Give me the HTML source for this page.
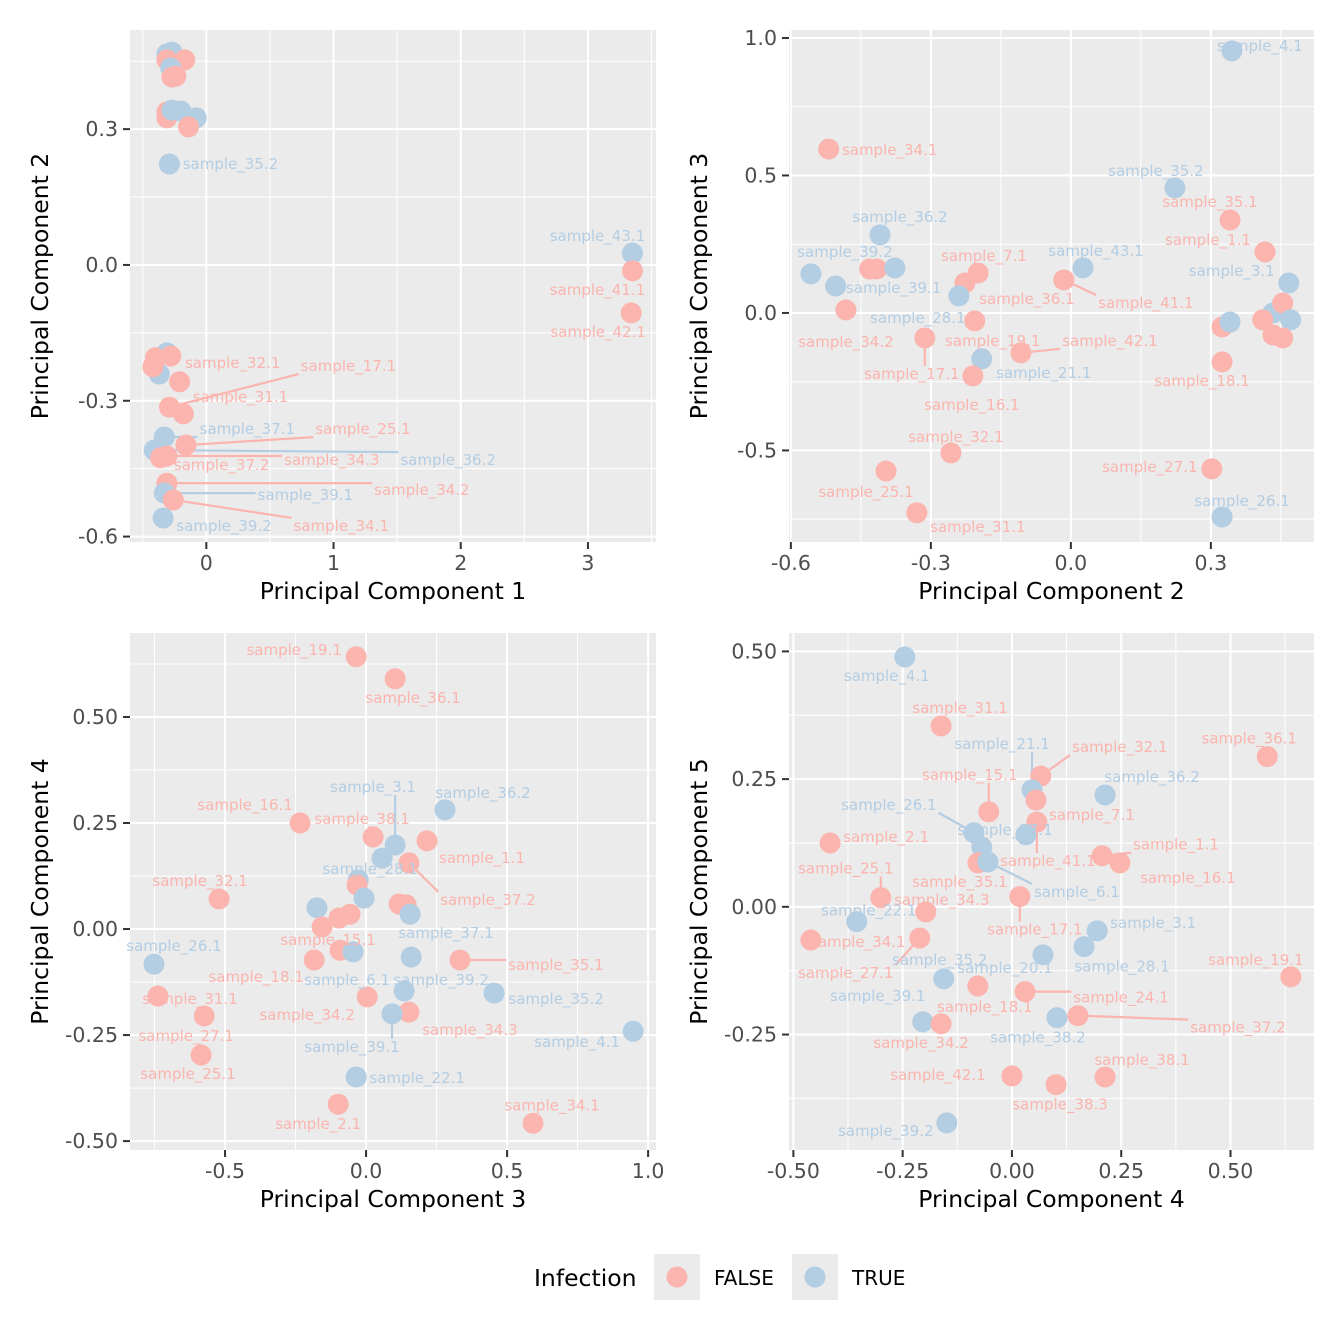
<!DOCTYPE html>
<html><head><meta charset="utf-8">
<style>
html,body{margin:0;padding:0;background:#fff;}
svg{display:block;font-family:"DejaVu Sans","Liberation Sans",sans-serif;}
</style></head>
<body>
<svg id="chart" width="1344" height="1344" viewBox="0 0 1344 1344" xmlns="http://www.w3.org/2000/svg">
<rect x="0" y="0" width="1344" height="1344" fill="#ffffff"/>
<g id="legend">
  <text x="534" y="1278" font-size="23.5" fill="#000" dominant-baseline="central">Infection</text>
  <rect x="654" y="1254" width="46" height="46" fill="#EBEBEB"/>
  <circle cx="677" cy="1277" r="10.5" fill="#FBB4AE"/>
  <text x="714" y="1278" font-size="20" fill="#000" dominant-baseline="central">FALSE</text>
  <rect x="792" y="1254" width="46" height="46" fill="#EBEBEB"/>
  <circle cx="815" cy="1277" r="10.5" fill="#B3CDE3"/>
  <text x="852" y="1278" font-size="20" fill="#000" dominant-baseline="central">TRUE</text>
</g>
</svg>
<script>
// ---- Panel 1: PC1 vs PC2 ----
const p1X = [-0.31,-0.27,-0.31,-0.17,-0.28,-0.27,-0.24,-0.31,-0.31,-0.27,-0.20,-0.08,-0.14,-0.29,3.35,3.35,3.34,-0.31,-0.40,-0.28,-0.37,-0.42,-0.21,-0.29,-0.18,-0.33,-0.16,-0.41,-0.36,-0.31,-0.31,-0.33,-0.26,-0.34];
const p1Y = [0.466,0.47,0.453,0.453,0.435,0.415,0.417,0.338,0.325,0.342,0.34,0.325,0.305,0.223,0.026,-0.013,-0.106,-0.194,-0.205,-0.201,-0.241,-0.225,-0.258,-0.314,-0.329,-0.38,-0.398,-0.409,-0.426,-0.422,-0.482,-0.504,-0.519,-0.559];
const p1Inf = [1,1,0,0,1,0,0,0,0,1,1,1,0,1,1,0,0,1,0,0,1,0,0,0,0,1,0,1,0,0,0,1,0,1];
const p1Lab = ["","","","","","","","","","","","","","sample_35.2","sample_43.1","sample_41.1","sample_42.1","","","sample_32.1","","","","sample_17.1","sample_31.1","sample_37.1","sample_25.1","sample_36.2","sample_37.2","sample_34.3","sample_34.2","sample_39.1","sample_34.1","sample_39.2"];
const p1Off = [null,null,null,null,null,null,null,null,null,null,null,null,null,[61,0,0],[-35,-17,0],[-35,19,0],[-33,19,0],null,null,[62,7,0],null,null,null,[179,-41,1],[57,-17,0],[83,-8,1],[177,-16,1],[294,10,1],[61,7,0],[165,4,1],[255,7,1],[141,2,1],[168,26,1],[61,8,0]];
const p1XTicks = [0,1,2,3];
const p1XTickLabels = ["0","1","2","3"];
const p1YTicks = [0.3,0,-0.3,-0.6];
const p1YTickLabels = ["0.3","0.0","-0.3","-0.6"];

// ---- Panel 2: PC2 vs PC3 ----
const p2X = [0.345,-0.519,0.223,0.341,-0.409,0.416,0.026,-0.015,-0.557,-0.504,-0.431,-0.416,-0.377,-0.199,-0.227,-0.24,-0.482,-0.206,-0.313,-0.191,-0.21,-0.107,0.467,0.433,0.454,0.471,0.411,0.433,0.454,0.324,0.341,0.324,-0.257,-0.396,-0.33,0.302,0.324];
const p2Y = [0.953,0.596,0.455,0.338,0.284,0.222,0.164,0.12,0.142,0.098,0.16,0.16,0.164,0.145,0.109,0.062,0.011,-0.029,-0.091,-0.167,-0.229,-0.145,0.109,0.0,0.036,-0.025,-0.025,-0.08,-0.091,-0.051,-0.033,-0.178,-0.509,-0.575,-0.727,-0.567,-0.742];
const p2Inf = [1,0,1,0,1,0,1,0,1,1,0,0,1,0,0,1,0,0,0,1,0,0,1,1,0,1,0,0,0,0,1,0,0,0,0,0,1];
const p2Lab = ["sample_4.1","sample_34.1","sample_35.2","sample_35.1","sample_36.2","sample_1.1","sample_43.1","sample_41.1","sample_39.2","sample_39.1","","","","sample_7.1","sample_36.1","sample_28.1","sample_34.2","sample_19.1","sample_17.1","sample_21.1","sample_16.1","sample_42.1","sample_3.1","","","","","","","","","sample_18.1","sample_32.1","sample_25.1","sample_31.1","sample_27.1","sample_26.1"];
const p2Off = [[28,-5,0],[61,1,0],[-19,-17,0],[-20,-18,0],[20,-18,0],[-57,-12,0],[13,-17,0],[82,23,1],[34,-22,0],[58,2,0],null,null,null,[6,-17,0],[62,16,0],[-41,22,0],[0,32,0],[18,20,0],[-13,36,1],[62,14,0],[-1,29,0],[89,-12,1],[-57,-12,0],null,null,null,null,null,null,null,null,[-20,19,0],[5,-16,0],[-20,21,0],[61,14,0],[-62,-2,0],[20,-16,0]];
const p2XTicks = [-0.6,-0.3,0,0.3];
const p2XTickLabels = ["-0.6","-0.3","0.0","0.3"];
const p2YTicks = [1,0.5,0,-0.5];
const p2YTickLabels = ["1.0","0.5","0.0","-0.5"];

// ---- Panel 3: PC3 vs PC4 ----
const p3X = [-0.035,0.103,0.28,-0.234,0.025,0.103,0.216,0.057,0.152,-0.028,-0.032,-0.007,-0.521,-0.174,0.117,0.142,0.156,-0.057,-0.096,-0.156,-0.092,-0.046,-0.184,0.16,0.333,-0.752,-0.738,0.454,0.004,0.135,-0.574,0.152,0.092,0.947,-0.585,-0.035,-0.099,0.592];
const p3Y = [0.642,0.59,0.281,0.25,0.217,0.198,0.208,0.167,0.156,0.116,0.104,0.073,0.071,0.05,0.059,0.057,0.035,0.035,0.026,0.005,-0.05,-0.054,-0.073,-0.066,-0.073,-0.083,-0.158,-0.151,-0.16,-0.146,-0.205,-0.196,-0.2,-0.241,-0.297,-0.349,-0.413,-0.458];
const p3Inf = [0,0,1,0,0,1,0,1,0,1,0,1,0,1,0,0,1,0,0,0,0,1,0,1,0,1,0,1,0,1,0,0,1,1,0,1,0,0];
const p3Lab = ["sample_19.1","sample_36.1","sample_36.2","sample_16.1","sample_38.1","sample_3.1","sample_1.1","","sample_37.2","sample_28.1","","","sample_32.1","","","","sample_37.1","","","sample_15.1","","sample_6.1","sample_18.1","sample_39.2","sample_35.1","sample_26.1","sample_31.1","sample_35.2","sample_34.2","","sample_27.1","sample_34.3","sample_39.1","sample_4.1","sample_25.1","sample_22.1","sample_2.1","sample_34.1"];
const p3Off = [[-62,-7,0],[18,19,0],[38,-17,0],[-55,-18,0],[-11,-18,0],[-22,-58,1],[55,17,0],null,[79,37,1],[12,-11,0],null,null,[-19,-18,0],null,null,null,[36,19,0],null,null,[6,13,0],null,[-6,28,0],[-58,17,0],[30,23,0],[96,5,1],[20,-18,0],[32,3,0],[62,6,0],[-60,18,0],null,[-18,20,0],[61,18,0],[-40,33,1],[-56,11,0],[-13,19,0],[61,1,0],[-20,20,0],[19,-18,0]];
const p3XTicks = [-0.5,0,0.5,1];
const p3XTickLabels = ["-0.5","0.0","0.5","1.0"];
const p3YTicks = [0.5,0.25,0,-0.25,-0.5];
const p3YTickLabels = ["0.50","0.25","0.00","-0.25","-0.50"];

// ---- Panel 4: PC4 vs PC5 ----
const p4X = [-0.245,-0.162,0.584,0.213,0.066,0.046,0.055,-0.053,-0.087,0.057,0.032,-0.416,-0.069,-0.078,-0.055,0.206,0.247,0.018,-0.3,-0.197,-0.355,-0.46,-0.211,0.195,0.165,0.071,-0.156,0.638,-0.078,0.03,-0.204,-0.162,0.103,0.151,0.0,0.101,0.213,-0.149];
const p4Y = [0.489,0.354,0.294,0.219,0.256,0.229,0.209,0.186,0.145,0.166,0.141,0.125,0.117,0.086,0.088,0.1,0.086,0.02,0.018,-0.01,-0.029,-0.065,-0.061,-0.047,-0.078,-0.094,-0.141,-0.137,-0.155,-0.166,-0.225,-0.229,-0.217,-0.213,-0.331,-0.348,-0.333,-0.423];
const p4Inf = [1,0,0,1,0,1,0,0,1,0,1,0,1,0,1,0,0,0,0,0,1,0,0,1,1,1,1,0,0,0,1,0,1,0,0,0,0,1];
const p4Lab = ["sample_4.1","sample_31.1","sample_36.1","sample_36.2","sample_32.1","sample_21.1","sample_7.1","sample_15.1","sample_26.1","sample_41.1","sample_37.1","sample_2.1","","sample_35.1","sample_6.1","sample_1.1","sample_16.1","sample_17.1","sample_25.1","sample_34.3","sample_22.1","sample_34.1","sample_27.1","sample_3.1","sample_28.1","sample_20.1","sample_35.2","sample_19.1","sample_18.1","sample_24.1","sample_39.1","sample_34.2","sample_38.2","sample_37.2","sample_42.1","sample_38.3","sample_38.1","sample_39.2"];
const p4Off = [[-18,19,0],[19,-18,0],[-18,-18,0],[47,-18,0],[79,-29,1],[-30,-46,1],[56,15,0],[-19,-37,1],[-85,-28,1],[11,39,1],[-21,-5,0],[56,-6,0],null,[-18,19,0],[89,30,1],[74,-11,1],[68,15,0],[15,33,1],[-35,-29,1],[16,-12,0],[12,-11,0],[47,2,0],[-74,35,1],[56,-8,0],[38,20,0],[-38,13,0],[-4,-19,0],[-35,-17,0],[7,21,0],[96,6,1],[-45,-26,0],[-20,19,0],[-19,20,0],[160,12,1],[-74,-1,0],[4,20,0],[37,-17,0],[-61,8,0]];
const p4XTicks = [-0.5,-0.25,0,0.25,0.5];
const p4XTickLabels = ["-0.50","-0.25","0.00","0.25","0.50"];
const p4YTicks = [0.5,0.25,0,-0.25];
const p4YTickLabels = ["0.50","0.25","0.00","-0.25"];

const NS = "http://www.w3.org/2000/svg";
const svg = document.getElementById("chart");
const RED = "#FBB4AE", BLUE = "#B3CDE3";

function mk(tag, attrs, parent) {
  const e = document.createElementNS(NS, tag);
  for (const k in attrs) e.setAttribute(k, attrs[k]);
  parent.appendChild(e);
  return e;
}

function drawPanel(id, box, xDom, yDom, X, Y, INF, LAB, OFF, xt, xtl, yt, ytl, xTitle, yTitle) {
  const g = mk("g", {}, svg);
  
  
  const sx = v => box.l + (v - xDom[0]) / (xDom[1] - xDom[0]) * (box.r - box.l);
  const sy = v => box.b - (v - yDom[0]) / (yDom[1] - yDom[0]) * (box.b - box.t);
  const bg = mk("rect", {x: box.l, y: box.t, width: box.r - box.l, height: box.b - box.t, fill: "#EBEBEB"}, g);
  
  
  const xStep = xt[1] - xt[0], yStep = yt[0] - yt[1];
  for (let v = xt[0] - xStep / 2; v <= xDom[1]; v += xStep) {
    if (v < xDom[0]) continue;
    const l = mk("line", {x1: sx(v), x2: sx(v), y1: box.t, y2: box.b, stroke: "#fff", "stroke-width": 1}, g);
    
    
  }
  for (let v = yt[yt.length - 1] - yStep / 2; v <= yDom[1]; v += yStep) {
    if (v < yDom[0]) continue;
    const l = mk("line", {x1: box.l, x2: box.r, y1: sy(v), y2: sy(v), stroke: "#fff", "stroke-width": 1}, g);
    
    
  }
  xt.forEach((v, i) => {
    const x = sx(v);
    const l = mk("line", {x1: x, x2: x, y1: box.t, y2: box.b, stroke: "#fff", "stroke-width": 2}, g);
    
    
    const tk = mk("line", {x1: x, x2: x, y1: box.b, y2: box.b + 7, stroke: "#333", "stroke-width": 2}, g);
    
    
    const t = mk("text", {x: x, y: box.b + 21, "font-size": 20.5, fill: "#4D4D4D", "text-anchor": "middle", "dominant-baseline": "central"}, g);
    t.textContent = xtl[i];
    
    
  });
  yt.forEach((v, i) => {
    const y = sy(v);
    const l = mk("line", {x1: box.l, x2: box.r, y1: y, y2: y, stroke: "#fff", "stroke-width": 2}, g);
    
    
    const tk = mk("line", {x1: box.l - 7, x2: box.l, y1: y, y2: y, stroke: "#333", "stroke-width": 2}, g);
    
    
    const t = mk("text", {x: box.l - 12, y: y, "font-size": 20.5, fill: "#4D4D4D", "text-anchor": "end", "dominant-baseline": "central"}, g);
    t.textContent = ytl[i];
    
    
  });
  const xtT = mk("text", {x: (box.l + box.r) / 2, y: box.b + 49, "font-size": 23.5, fill: "#000", "text-anchor": "middle", "dominant-baseline": "central"}, g);
  xtT.textContent = xTitle;
  
  
  const cy = (box.t + box.b) / 2, cx = box.l - 90;
  const ytT = mk("text", {x: cx, y: cy, "font-size": 23.5, fill: "#000", "text-anchor": "middle", "dominant-baseline": "central", transform: `rotate(-90 ${cx} ${cy})`}, g);
  ytT.textContent = yTitle;
  
  

  const segG = mk("g", {}, g);
  
  
  const ptG = mk("g", {}, g);
  
  
  const labG = mk("g", {}, g);
  
  

  X.forEach((xv, i) => {
    const px = sx(xv), py = sy(Y[i]);
    const col = INF[i] ? BLUE : RED;
    const c = mk("circle", {cx: px, cy: py, r: 10.5, fill: col}, ptG);
    
    
    if (LAB[i] && OFF[i]) {
      const lx = px + OFF[i][0], ly = py + OFF[i][1];
      const t = mk("text", {x: lx, y: ly, "font-size": 15, fill: col, "text-anchor": "middle", "dominant-baseline": "central"}, labG);
      t.textContent = LAB[i];
      
      
      if (OFF[i][2]) {
        let w = 96;
        try { w = t.getComputedTextLength() || 96; } catch (e) {}
        const x0 = lx - w / 2 - 2, x1 = lx + w / 2 + 2, y0 = ly - 8, y1 = ly + 8;
        const ex = Math.max(x0, Math.min(px, x1)), ey = Math.max(y0, Math.min(py, y1));
        const s = mk("line", {x1: px, y1: py, x2: ex, y2: ey, stroke: col, "stroke-width": 2.2}, segG);
        
        
      }
    }
  });
}

drawPanel("panel-pc1-pc2", {l:130, r:656, t:30, b:542}, [-0.6, 3.535], [-0.612, 0.519],
  p1X, p1Y, p1Inf, p1Lab, p1Off, p1XTicks, p1XTickLabels, p1YTicks, p1YTickLabels, "Principal Component 1", "Principal Component 2");
drawPanel("panel-pc2-pc3", {l:789, r:1314, t:30, b:542}, [-0.604, 0.521], [-0.833, 1.029],
  p2X, p2Y, p2Inf, p2Lab, p2Off, p2XTicks, p2XTickLabels, p2YTicks, p2YTickLabels, "Principal Component 2", "Principal Component 3");
drawPanel("panel-pc3-pc4", {l:130, r:656, t:633, b:1150}, [-0.837, 1.028], [-0.521, 0.698],
  p3X, p3Y, p3Inf, p3Lab, p3Off, p3XTicks, p3XTickLabels, p3YTicks, p3YTickLabels, "Principal Component 3", "Principal Component 4");
drawPanel("panel-pc4-pc5", {l:789, r:1314, t:633, b:1150}, [-0.510, 0.691], [-0.476, 0.536],
  p4X, p4Y, p4Inf, p4Lab, p4Off, p4XTicks, p4XTickLabels, p4YTicks, p4YTickLabels, "Principal Component 4", "Principal Component 5");
</script>
</body></html>
